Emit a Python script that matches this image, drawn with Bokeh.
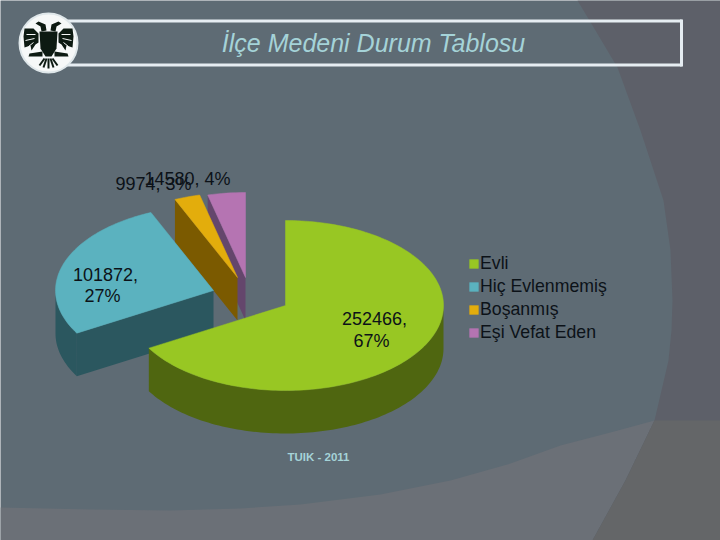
import numpy as np
from bokeh.plotting import figure
from bokeh.models import Legend, LegendItem, Label
from bokeh.embed import file_html
from bokeh.resources import INLINE

categories = ["Evli", "Hiç Evlenmemiş", "Boşanmış", "Eşi Vefat Eden"]
values = [252466, 101872, 9974, 14580]
percents = ["67%", "27%", "3%", "4%"]
top_colors = ["#98c723", "#5bb2bf", "#e3ad0c", "#b574b2"]
side_colors = ["#4f6610", "#2b575f", "#7b5a00", "#64466c"]
title = "İlçe Medeni Durum Tablosu"
source_note = "TUIK - 2011"

W, H = 720, 540
p = figure(width=W, height=H, x_range=(0, 720), y_range=(540, 0),
           output_backend="svg", toolbar_location=None,
           background_fill_color="#5e6b74", border_fill_color="#5e6b74", min_border=0)
p.axis.visible = False
p.grid.visible = False
p.outline_line_color = None

# page decoration
p.patch([0, 0, 90, 170, 240, 300, 380, 450, 510, 560, 610, 654, 625, 592, 0],
        [540, 507, 509, 510, 508, 504, 494, 480, 463, 445, 432, 420, 480, 540, 540],
        fill_color="#6b7077", line_color=None)
p.patch([577, 595, 617, 640, 663, 670, 672, 671, 668, 654, 625, 592, 720, 720],
        [0, 30, 67, 130, 200, 250, 300, 330, 360, 420, 480, 540, 540, 0],
        fill_color="#5d6069", line_color=None)
p.patch([654, 625, 592, 720, 720], [420, 480, 540, 540, 420], fill_color="#646668", line_color=None)

# 3D pie from values
RX, RY, DEPTH = 158, 85, 43
centers = [(285, 305), (213, 290), (237, 277), (245, 277)]
total = sum(values)
edges = np.concatenate([[0], np.cumsum(values)]) / total * 2 * np.pi

def pt(c, t, dy=0):
    return c[0] + RX * np.sin(t), c[1] - RY * np.cos(t) + dy

def arc(t0, t1):
    return np.linspace(t0, t1, max(int(abs(t1 - t0) * 40), 2))

def side_faces(i):
    c, t0, t1 = centers[i], edges[i], edges[i + 1]
    # outer rim, visible on the front half only
    a, b = max(t0, np.pi / 2), min(t1, 3 * np.pi / 2)
    if b > a:
        t = arc(a, b)
        x, y = pt(c, t)
        x2, y2 = pt(c, t[::-1], DEPTH)
        p.patch(np.r_[x, x2], np.r_[y, y2], fill_color=side_colors[i], line_color=None)
    # leading cut face looks towards the viewer on the left half
    if t0 > np.pi:
        x, y = pt(c, t0)
        p.patch([c[0], x, x, c[0]], [c[1], y, y + DEPTH, c[1] + DEPTH],
                fill_color=side_colors[i], line_color=None)

renderers = []
for i in [3, 2, 1, 0]:
    side_faces(i)
    t = arc(edges[i], edges[i + 1])
    x, y = pt(centers[i], t)
    r = p.patch(np.r_[centers[i][0], x], np.r_[centers[i][1], y],
                fill_color=top_colors[i], line_color=top_colors[i], line_width=0.5)
    renderers.insert(0, r)

legend = Legend(items=[LegendItem(label=c, renderers=[r]) for c, r in zip(categories, renderers)],
                location=(468, 197), background_fill_alpha=0, border_line_alpha=0,
                margin=0, padding=0, glyph_width=11, glyph_height=11, label_standoff=1,
                spacing=2, label_text_font="Liberation Sans", label_text_font_size="17.7px",
                label_text_color="#0c1218", label_height=20)
p.add_layout(legend, "center")

def label(x, y, text, size="18px", color="#0c1218", font="Liberation Sans", **kw):
    p.add_layout(Label(x=x, y=y, text=text, text_font=font, text_font_size=size,
                       text_color=color, text_align="center", text_baseline="middle", **kw))

label(374, 318, f"{values[0]},")
label(371, 340, percents[0])
label(105, 274, f"{values[1]},")
label(102, 295, percents[1])
label(153, 183, f"{values[2]}, {percents[2]}")
label(187, 178, f"{values[3]}, {percents[3]}")

# title box
p.line([60, 681, 681, 60], [20.5, 20.5, 64.5, 64.5], line_color="#e6edf2", line_width=3)
p.line([681, 681], [19, 66], line_color="#e6edf2", line_width=3)
label(373, 42, title, size="25px", color="#a5d3d8", text_font_style="italic")
label(318, 456, source_note, size="11.5px", color="#a5d3d8", text_font_style="bold")

# emblem
p.ellipse([48], [42.5], width=58, height=59, fill_color="#f6f8f8", line_color="#dfe7ea", line_width=2)
dark = "#0d1a12"
for s in (-1, 1):
    wing = [(10, 33), (15, 28), (24, 28), (25, 36), (24, 47), (18, 45), (17, 50), (13, 44), (10, 42)]
    head = [(2, 30), (3, 24), (10, 21), (13, 23), (8, 26), (7, 31)]
    claw = [(6, 51), (19, 53), (20, 56), (11, 56), (6, 56)]
    for shape in (wing, head, claw):
        p.patch([48 + s * a for a, _ in shape], [b for _, b in shape], fill_color=dark, line_color=None)
    p.multi_line([[48 + s * 13, 48 + s * 22], [48 + s * 14, 48 + s * 23], [48 + s * 15, 48 + s * 20]],
                 [[34, 34], [38, 40], [42, 46]], line_color="#f6f8f8", line_width=1)
    p.line([48 + s * 4.5, 48 + s * 4.5], [37, 50], line_color="#f6f8f8", line_width=1)
    p.multi_line([[48 + s * 2, 48 + s * 5], [48 + s * 4, 48 + s * 9]], [[58, 67], [58, 65]],
                 line_color=dark, line_width=2)
p.patch([39, 57, 56, 51, 45, 40], [31, 31, 48, 56, 56, 48], fill_color=dark, line_color=None)
p.line([48, 48], [58, 68], line_color=dark, line_width=2)

open("out.html", "w").write(file_html(p, INLINE))
